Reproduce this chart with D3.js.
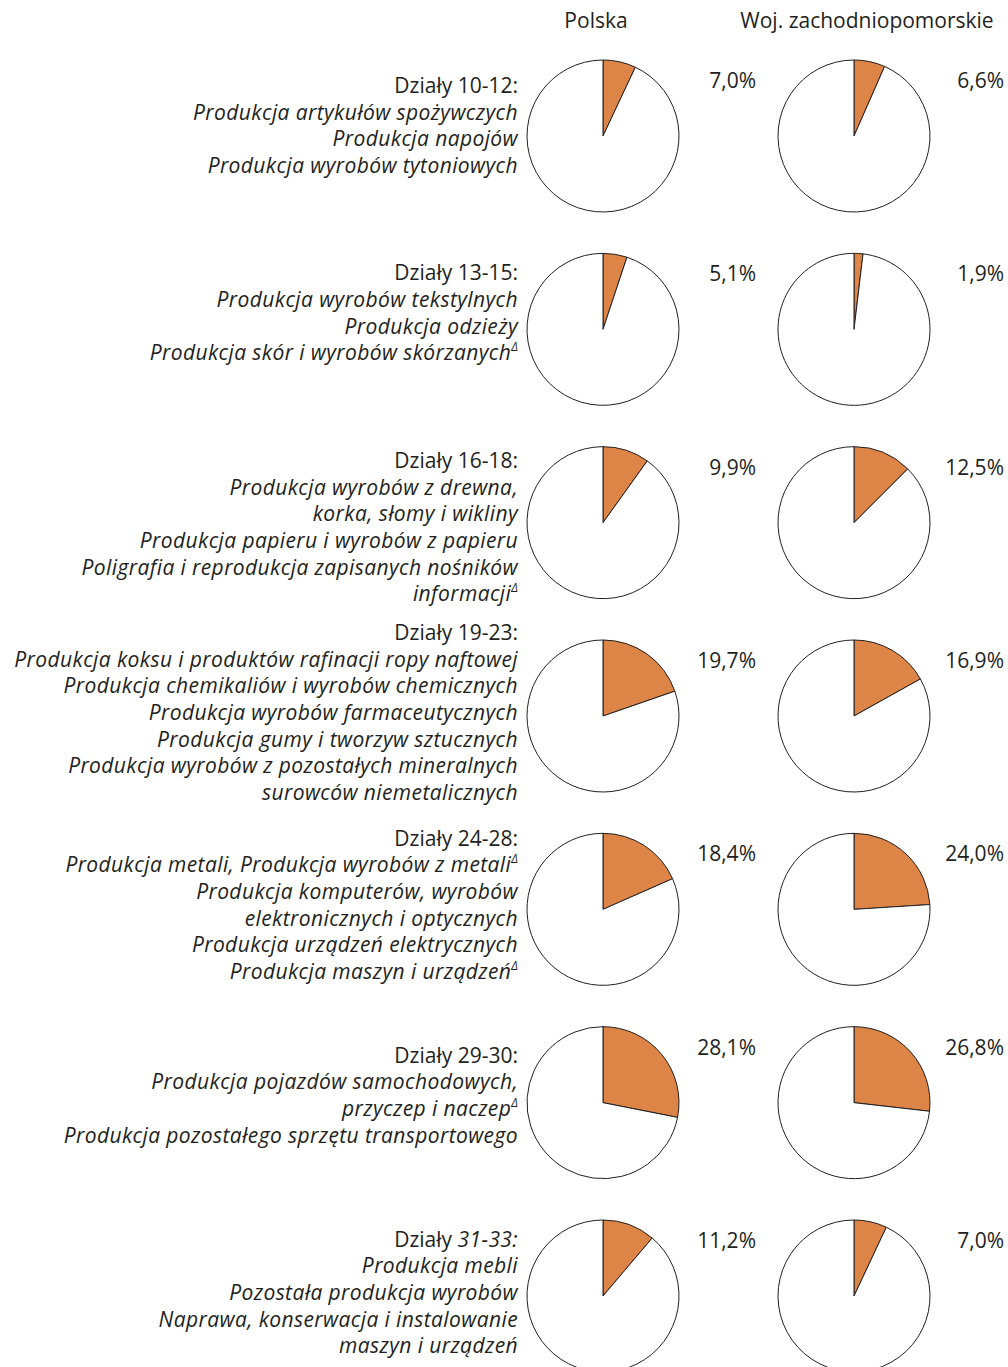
<!DOCTYPE html>
<html lang="pl">
<head>
    <meta charset="UTF-8">
    <script src="https://cdn.jsdelivr.net/npm/d3@7"></script>
    <title>Działy przetwórstwa przemysłowego</title>
    <style>
        body { margin: 0; background: #fff; }
        text { font-family: "Open Sans", sans-serif; fill: #231f20; }
    </style>
</head>
<body>
<script>

    // dane
    let columns = ["Polska", "Woj. zachodniopomorskie"]

    let divisions = ["10-12", "13-15", "16-18", "19-23", "24-28", "29-30", "31-33"]
    let italicCode = [false, false, false, false, false, false, true]

    // "^" = indeks górny Δ
    let descriptions = [
        ["Produkcja artykułów spożywczych", "Produkcja napojów", "Produkcja wyrobów tytoniowych"],
        ["Produkcja wyrobów tekstylnych", "Produkcja odzieży", "Produkcja skór i wyrobów skórzanych^"],
        ["Produkcja wyrobów z drewna,", "korka, słomy i wikliny", "Produkcja papieru i wyrobów z papieru",
            "Poligrafia i reprodukcja zapisanych nośników", "informacji^"],
        ["Produkcja koksu i produktów rafinacji ropy naftowej", "Produkcja chemikaliów i wyrobów chemicznych",
            "Produkcja wyrobów farmaceutycznych", "Produkcja gumy i tworzyw sztucznych",
            "Produkcja wyrobów z pozostałych mineralnych", "surowców niemetalicznych"],
        ["Produkcja metali, Produkcja wyrobów z metali^", "Produkcja komputerów, wyrobów",
            "elektronicznych i optycznych", "Produkcja urządzeń elektrycznych", "Produkcja maszyn i urządzeń^"],
        ["Produkcja pojazdów samochodowych,", "przyczep i naczep^", "Produkcja pozostałego sprzętu transportowego"],
        ["Produkcja mebli", "Pozostała produkcja wyrobów", "Naprawa, konserwacja i instalowanie", "maszyn i urządzeń"]
    ]

    let polska = [7.0, 5.1, 9.9, 19.7, 18.4, 28.1, 11.2]
    let zachodniopomorskie = [6.6, 1.9, 12.5, 16.9, 24.0, 26.8, 7.0]

    // układ
    let width = 1008,
        height = 1367,
        radius = 76,
        fontSize = 21,
        lineH = 26.7,
        labelRight = 518,
        headShift = [-7, 13],
        labelShift = [-9, -15, 6, -2, -3, -6, -2]

    let x = d3.scalePoint()
        .domain(columns)
        .range([603, 854])

    // prawa krawędź etykiet procentowych
    let xPct = d3.scalePoint()
        .domain(columns)
        .range([756, 1004])

    let y = d3.scalePoint()
        .domain(divisions)
        .range([136, 1296])

    let pie = d3.pie().sort(null).value(d => d)
    let arc = d3.arc().innerRadius(0).outerRadius(radius)
    let fmt = v => d3.format(".1f")(v).replace(".", ",") + "%"

    let svg = d3.select("body")
        .append("svg")
        .attr("width", width)
        .attr("height", height)

    // nagłówki kolumn
    svg.selectAll("text.head")
        .data(columns)
        .enter()
        .append("text")
        .attr("class", "head")
        .attr("x", (d, i) => x(d) + headShift[i])
        .attr("y", 28)
        .attr("text-anchor", "middle")
        .attr("font-size", fontSize)
        .text(d => d)

    let rows = svg.selectAll("g.row")
        .data(divisions)
        .enter()
        .append("g")
        .attr("class", "row")
        .attr("transform", d => "translate(0," + y(d) + ")")

    // opisy działów
    rows.each(function (code, i) {
        let lines = descriptions[i]
        let n = lines.length + 1
        let top = -(n - 1) * lineH / 2 + labelShift[i]
        let t = d3.select(this).append("text")
            .attr("text-anchor", "end")
            .attr("font-size", fontSize)
            .attr("dominant-baseline", "middle")

        let head = t.append("tspan").attr("x", labelRight).attr("y", top)
        head.append("tspan").text("Działy ")
        head.append("tspan")
            .attr("font-style", italicCode[i] ? "italic" : "normal")
            .attr("letter-spacing", italicCode[i] ? 0.4 : 0)
            .text(code + ":")

        lines.forEach(function (line, j) {
            let sup = line.endsWith("^")
            t.append("tspan")
                .attr("x", labelRight)
                .attr("y", top + (j + 1) * lineH)
                .attr("font-style", "italic")
                .attr("letter-spacing", 0.4)
                .text(sup ? line.slice(0, -1) : line)
            if (sup) {
                t.append("tspan")
                    .attr("font-style", "italic")
                    .attr("font-size", 12)
                    .attr("dy", -6)
                    .text("Δ")
            }
        })
    })

    // wykresy kołowe
    let series = [polska, zachodniopomorskie]

    series.forEach(function (vals, c) {
        let cx = x(columns[c])
        rows.each(function (code, i) {
            let g = d3.select(this).append("g")
                .attr("transform", "translate(" + cx + ",0)")

            g.selectAll("path")
                .data(pie([vals[i], 100 - vals[i]]))
                .enter()
                .append("path")
                .attr("d", arc)
                .attr("fill", (d, k) => k === 0 ? "#dc8547" : "#fff")
                .attr("stroke", "#231f20")
                .attr("stroke-width", 1)
                .attr("stroke-linejoin", "round")

            d3.select(this).append("text")
                .attr("x", xPct(columns[c]))
                .attr("y", -radius + 28)
                .attr("text-anchor", "end")
                .attr("font-size", fontSize)
                .text(fmt(vals[i]))
        })
    })

</script>
</body>
</html>
